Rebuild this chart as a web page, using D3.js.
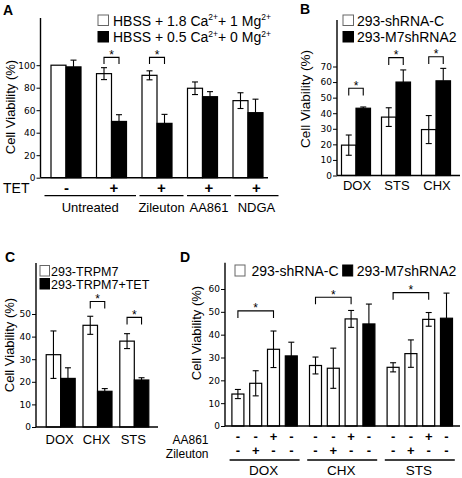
<!DOCTYPE html>
<html><head><meta charset="utf-8">
<script src="https://cdn.jsdelivr.net/npm/d3@7"></script>
<style>
body{margin:0;background:#fff}
text{font-family:"Liberation Sans",Arial,Helvetica,sans-serif;fill:#000}
</style>
</head><body>
<svg id="chart" width="462" height="478"></svg>
<script>
// ---------- Panel A data ----------
const aGroups = ["Untreated -", "Untreated +", "Zileuton +", "AA861 +", "NDGA +"];
const aTet = ["-", "+", "+", "+", "+"];
const aTreatments = ["Untreated", "Zileuton", "AA861", "NDGA"];
const aTreatSpans = [[0, 1], [2, 2], [3, 3], [4, 4]];
const aTicks = [0, 20, 40, 60, 80, 100];
const aNormal = [100, 92.5, 91, 79.5, 68.5];
const aNormalErr = [0, 5.3, 4, 5.6, 7];
const aLow = [98.5, 50, 48.3, 72, 57.8];
const aLowErr = [6, 6, 8, 4.5, 12];
const aSigGroups = [1, 2];
const aSigLevels = [107, 107];

// ---------- Panel B data ----------
const bCats = ["DOX", "STS", "CHX"];
const bTicks = [0, 10, 20, 30, 40, 50, 60, 70];
const bCtrl = [19.5, 37.5, 29.5];
const bCtrlErr = [6.5, 6, 9];
const bKd = [43.2, 60, 60.8];
const bKdErr = [0.8, 7.8, 8];
const bSigLevels = [56, 75.7, 76.3];

// ---------- Panel C data ----------
const cCats = ["DOX", "CHX", "STS"];
const cTicks = [0, 10, 20, 30, 40, 50];
const cCtrl = [32, 45, 38];
const cCtrlErr = [10.5, 4, 3.3];
const cTet = [21.5, 15.8, 20.8];
const cTetErr = [4.7, 1.2, 1];
const cSigGroups = [1, 2];
const cSigLevels = [55.5, 48.5];

// ---------- Panel D data ----------
const dCats = ["DOX", "CHX", "STS"];
const dTicks = [0, 10, 20, 30, 40, 50, 60];
const dAA861 = ["-", "-", "+", "-"];
const dZileuton = ["-", "+", "-", "-"];
const dBarIsKd = [false, false, false, true];
const dDOX = [14, 18.7, 33.6, 30.7];
const dCHX = [26.5, 25.3, 46.9, 44.7];
const dSTS = [25.7, 31.7, 46.7, 47.2];
const dDOXErr = [2, 5.5, 8, 6];
const dCHXErr = [3.7, 8.8, 3.7, 8.7];
const dSTSErr = [2, 6, 3, 11];
const dSigLevels = [50.4, 56.4, 58.4];

// ---------- helpers ----------
const svg = d3.select("#chart");
const SW = 1.2;

function yAxis(x0, y, yTop, ticks) {
  svg.append("line").attr("x1", x0).attr("x2", x0).attr("y1", y(0)).attr("y2", yTop)
    .attr("stroke", "#000").attr("stroke-width", 1.4);
  const ax = svg.append("g").attr("transform", `translate(${x0},0)`)
    .call(d3.axisLeft(y).tickValues(ticks).tickSize(4).tickPadding(1).tickFormat(d3.format("d")));
  ax.select(".domain").remove();
  ax.attr("font-family", "DejaVu Sans").attr("font-size", 9);
  ax.selectAll("text").style("font-family", "DejaVu Sans").attr("fill", "#000");
  ax.selectAll("line").attr("stroke", "#000").attr("stroke-width", 1);
}
function baseline(x0, x1, yv) {
  svg.append("line").attr("x1", x0).attr("x2", x1).attr("y1", yv).attr("y2", yv)
    .attr("stroke", "#000").attr("stroke-width", 1.4);
}
function bar(cx, w, y, v, dark) {
  svg.append("rect").attr("x", cx - w / 2).attr("y", y(v)).attr("width", w)
    .attr("height", y(0) - y(v))
    .attr("fill", dark ? "#000" : "#fff").attr("stroke", "#000").attr("stroke-width", SW);
}
function errBar(cx, y, v, e, dark) {
  if (!e) return;
  const cap = 3;
  const top = y(v + e), bot = dark ? y(v) : y(v - e);
  const g = svg.append("g").attr("stroke", "#000").attr("stroke-width", 1.1);
  g.append("line").attr("x1", cx).attr("x2", cx).attr("y1", top).attr("y2", bot);
  g.append("line").attr("x1", cx - cap).attr("x2", cx + cap).attr("y1", top).attr("y2", top);
  if (!dark) g.append("line").attr("x1", cx - cap).attr("x2", cx + cap).attr("y1", bot).attr("y2", bot);
}
function bracket(x1, x2, y, level, leg) {
  const yy = y(level);
  svg.append("path").attr("d", `M${x1},${yy + leg}V${yy}H${x2}V${yy + leg}`)
    .attr("fill", "none").attr("stroke", "#000").attr("stroke-width", 1.1);
  svg.append("text").attr("x", (x1 + x2) / 2).attr("y", yy + 1.5).attr("text-anchor", "middle")
    .attr("font-size", 12).text("*");
}
function yLabel(cx, cy, size) {
  svg.append("text").attr("transform", `translate(${cx},${cy}) rotate(-90)`)
    .attr("text-anchor", "middle").attr("dy", "0.35em").attr("font-size", size).text("Cell Viability (%)");
}
function legendBox(x, y, w, h, dark) {
  svg.append("rect").attr("x", x).attr("y", y).attr("width", w).attr("height", h)
    .attr("fill", dark ? "#000" : "#fff").attr("stroke", dark ? "#000" : "#666").attr("stroke-width", 1);
}
function txt(x, y, s, size, anchor, weight) {
  return svg.append("text").attr("x", x).attr("y", y).attr("font-size", size)
    .attr("text-anchor", anchor || "start").attr("font-weight", weight || "normal").text(s);
}

// ---------- Panel A ----------
{
  const y = d3.scaleLinear().domain([0, 100]).range([177.7, 65.2]);
  const x = d3.scaleBand().domain(aGroups).range([43.25, 270.75]);
  const ann = d3.scalePoint().domain(d3.range(aGroups.length)).range([66.5, 256.5]);
  const bw = 15;
  aGroups.forEach((g, i) => {
    const c = x(g) + x.bandwidth() / 2;
    bar(c - bw / 2, bw, y, aNormal[i], false);
    bar(c + bw / 2, bw, y, aLow[i], true);
    errBar(c - bw / 2, y, aNormal[i], aNormalErr[i], false);
    errBar(c + bw / 2, y, aLow[i], aLowErr[i], true);
  });
  aSigGroups.forEach((gi, k) => {
    const c = x(aGroups[gi]) + x.bandwidth() / 2;
    bracket(c - bw / 2, c + bw / 2, y, aSigLevels[k], 6.7);
  });
  yAxis(40.5, y, 18, aTicks);
  baseline(40.5, 268, y(0));
  yLabel(10, 107, 13);
  txt(3, 15, "A", 14, "start", "bold");
  // legend
  legendBox(98, 15, 10.5, 10.5, false);
  legendBox(98, 31.5, 10.5, 10.5, true);
  const leg = (yy, ca, mg) => {
    const t = txt(113, yy, "", 14);
    t.append("tspan").text(`HBSS + ${ca} Ca`);
    t.append("tspan").attr("font-size", 8.5).attr("dy", -5.5).text("2+");
    t.append("tspan").attr("dy", 5.5).text(`+ ${mg} Mg`);
    t.append("tspan").attr("font-size", 8.5).attr("dy", -5.5).text("2+");
  };
  leg(25.5, "1.8", "1");
  leg(42, "0.5", "0");
  // TET row
  txt(3, 193, "TET", 14);
  aTet.forEach((s, i) => txt(ann(i), 193, s, 15, "middle", "bold"));
  aTreatments.forEach((t, k) => {
    const [a, b] = aTreatSpans[k];
    const x1 = ann(a) - 22, x2 = ann(b) + 22;
    svg.append("line").attr("x1", x1).attr("x2", x2).attr("y1", 195.7).attr("y2", 195.7)
      .attr("stroke", "#000").attr("stroke-width", 1.3);
    txt((x1 + x2) / 2, 211.7, t, 13, "middle");
  });
}

// ---------- Panel B ----------
{
  const y = d3.scaleLinear().domain([0, 70]).range([175.5, 66.5]);
  const x = d3.scaleBand().domain(bCats).range([336, 456]);
  const bw = 14.5;
  bCats.forEach((g, i) => {
    const c = x(g) + x.bandwidth() / 2;
    bar(c - bw / 2, bw, y, bCtrl[i], false);
    bar(c + bw / 2, bw, y, bKd[i], true);
    errBar(c - bw / 2, y, bCtrl[i], bCtrlErr[i], false);
    errBar(c + bw / 2, y, bKd[i], bKdErr[i], true);
    bracket(c - bw / 2, c + bw / 2, y, bSigLevels[i], 7.3);
    txt(c + 1, 190, g, 13, "middle");
  });
  yAxis(337, y, 20, bTicks);
  baseline(337, 460, y(0));
  yLabel(305, 99, 13.5);
  txt(300, 14, "B", 14, "start", "bold");
  legendBox(343, 15, 10.5, 10.5, false);
  legendBox(343, 31.5, 10.5, 10.5, true);
  txt(357, 25.5, "293-shRNA-C", 14);
  txt(357, 42, "293-M7shRNA2", 14);
}

// ---------- Panel C ----------
{
  const y = d3.scaleLinear().domain([0, 50]).range([427, 314]);
  const x = d3.scaleBand().domain(cCats).range([42.3, 152.7]);
  const bw = 14.5;
  cCats.forEach((g, i) => {
    const c = x(g) + x.bandwidth() / 2;
    bar(c - bw / 2, bw, y, cCtrl[i], false);
    bar(c + bw / 2, bw, y, cTet[i], true);
    errBar(c - bw / 2, y, cCtrl[i], cCtrlErr[i], false);
    errBar(c + bw / 2, y, cTet[i], cTetErr[i], true);
    txt(c - 1, 444, g, 13, "middle");
  });
  cSigGroups.forEach((gi, k) => {
    const c = x(cCats[gi]) + x.bandwidth() / 2;
    bracket(c - bw / 2, c + bw / 2, y, cSigLevels[k], 7);
  });
  yAxis(36, y, 263, cTicks);
  baseline(36, 158, y(0));
  yLabel(9, 345, 13);
  txt(5, 262, "C", 14, "start", "bold");
  legendBox(40, 265.5, 9.5, 10.5, false);
  legendBox(40, 278.5, 9.5, 10.5, true);
  txt(51, 275.5, "293-TRPM7", 12.5);
  txt(51, 289, "293-TRPM7+TET", 12.5);
}

// ---------- Panel D ----------
{
  const y = d3.scaleLinear().domain([0, 60]).range([426, 289]);
  const x = d3.scaleBand().domain(dCats).range([225.8, 458.6]);
  const inner = d3.scaleBand().domain(d3.range(4)).range([-35.6, 35.6]);
  const vals = [dDOX, dCHX, dSTS];
  const errs = [dDOXErr, dCHXErr, dSTSErr];
  const bw = 12;
  dCats.forEach((g, gi) => {
    const c = x(g) + x.bandwidth() / 2;
    const bc = i => c + inner(i) + inner.bandwidth() / 2;
    vals[gi].forEach((v, i) => {
      bar(bc(i), bw, y, v, dBarIsKd[i]);
      errBar(bc(i), y, v, errs[gi][i], dBarIsKd[i]);
      txt(bc(i), 441, dAA861[i], 13, "middle", "bold");
      txt(bc(i), 454.5, dZileuton[i], 13, "middle", "bold");
    });
    bracket(bc(0), bc(2), y, dSigLevels[gi], 7);
    svg.append("line").attr("x1", c - 35).attr("x2", c + 35).attr("y1", 460).attr("y2", 460)
      .attr("stroke", "#000").attr("stroke-width", 1.3);
    txt(c - 1, 475, g, 13.5, "middle");
  });
  yAxis(225, y, 262.7, dTicks);
  baseline(225, 460, y(0));
  yLabel(196, 333, 13);
  txt(180, 262, "D", 14, "start", "bold");
  txt(208.5, 443.5, "AA861", 12, "end");
  txt(208.5, 457.5, "Zileuton", 12, "end");
  legendBox(235, 265, 10, 11, false);
  legendBox(342.7, 265, 10, 11, true);
  txt(251.5, 275.5, "293-shRNA-C", 14);
  txt(356.7, 275.5, "293-M7shRNA2", 14);
}
</script>
</body></html>
